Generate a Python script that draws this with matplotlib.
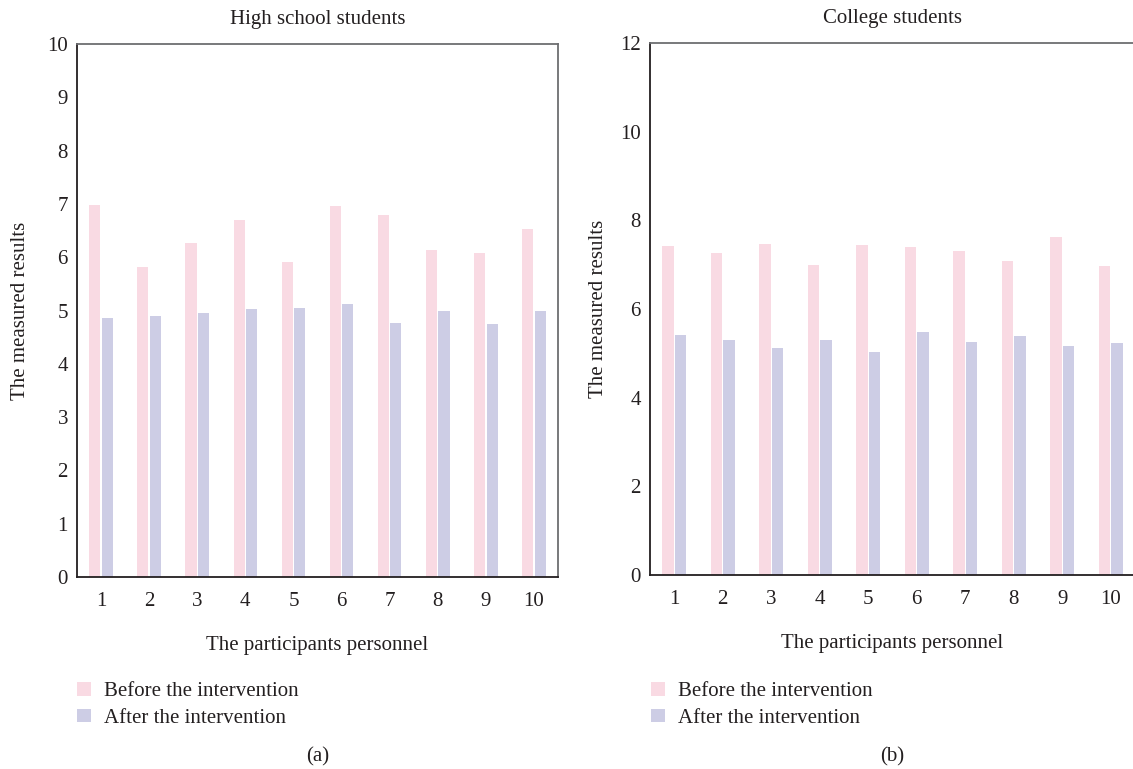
import matplotlib
matplotlib.use("Agg")
import matplotlib.pyplot as plt
import numpy as np
from matplotlib.patches import Patch

participants = [1, 2, 3, 4, 5, 6, 7, 8, 9, 10]
hs_before = [6.98, 5.81, 6.26, 6.70, 5.91, 6.96, 6.79, 6.14, 6.08, 6.53]
hs_after = [4.86, 4.90, 4.95, 5.03, 5.05, 5.12, 4.77, 4.99, 4.75, 4.99]
col_before = [7.43, 7.27, 7.47, 7.00, 7.45, 7.40, 7.31, 7.09, 7.63, 6.98]
col_after = [5.42, 5.29, 5.13, 5.29, 5.04, 5.47, 5.26, 5.38, 5.17, 5.24]

titles = ["High school students", "College students"]
series_labels = ["Before the intervention", "After the intervention"]
panel_tags = ["(a)", "(b)"]

plt.rcParams['font.family'] = ['Liberation Serif', 'DejaVu Serif']
FS = 15
TXT = "#231F20"
PINK = "#F9DAE3"
BLUE = "#CDCDE5"

W, H = 1133, 769
fig = plt.figure(figsize=(W / 100, H / 100), dpi=100)

def px_axes(l, t, r, b):
    return [l / W, 1 - b / H, (r - l) / W, (b - t) / H]

axa = fig.add_axes(px_axes(77, 44, 558, 577))
axb = fig.add_axes(px_axes(650, 43, 1135, 575))

x = np.array(participants)
bw = 0.23
off = 0.13

panels = [
    (axa, hs_before, hs_after, (0, 10), list(range(0, 11, 1))),
    (axb, col_before, col_after, (0, 12), list(range(0, 13, 2))),
]

for i, (ax, before, after, ylim, yt) in enumerate(panels):
    ax.bar(x - off, before, width=bw, color=PINK, linewidth=0)
    ax.bar(x + off, after, width=bw, color=BLUE, linewidth=0)
    ax.set_xlim(0.5, 10.5)
    ax.set_ylim(*ylim)
    ax.set_xticks(x)
    ax.set_xticklabels([str(p) for p in participants], fontsize=FS)
    ax.set_yticks(yt)
    ax.set_yticklabels([str(v) for v in yt], fontsize=FS)
    ax.tick_params(axis='both', length=0, colors=TXT)
    ax.tick_params(axis='x', pad=11)
    ax.tick_params(axis='y', pad=6.5)
    for s in ['top', 'right']:
        ax.spines[s].set_color("#6D6E71")
        ax.spines[s].set_linewidth(1.3)
    for s in ['left', 'bottom']:
        ax.spines[s].set_color(TXT)
        ax.spines[s].set_linewidth(1.3)
    ax.set_title(titles[i], fontsize=FS, color=TXT, pad=14.5)
    ax.set_ylabel("The measured results", fontsize=FS, color=TXT)
    ax.set_xlabel("The participants personnel", fontsize=FS, color=TXT)
    ax.xaxis.set_label_coords(0.5, -0.111)

axa.yaxis.set_label_coords(-0.098, 0.5)
axb.yaxis.set_label_coords(-0.087, 0.5)

handles = [Patch(facecolor=PINK, edgecolor='none'), Patch(facecolor=BLUE, edgecolor='none')]
for lx, cx, tag in [(77, 318, panel_tags[0]), (651, 892, panel_tags[1])]:
    fig.legend(handles, series_labels, loc='upper left',
               bbox_to_anchor=(lx / W, 1 - 682 / H), frameon=False,
               fontsize=FS, handlelength=0.65, handleheight=0.65,
               handletextpad=0.67, labelspacing=0.35, borderpad=0, borderaxespad=0,
               labelcolor=TXT)
    fig.text(cx / W, 1 - 757 / H, tag, ha='center', va='center', fontsize=FS, color=TXT)

fig.savefig("out.png", dpi=100)
